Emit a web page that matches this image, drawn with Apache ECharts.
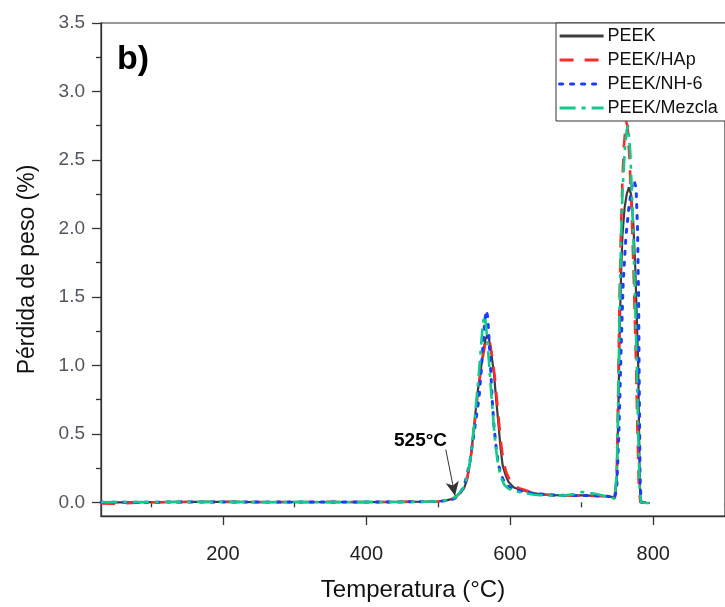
<!DOCTYPE html>
<html>
<head>
<meta charset="utf-8">
<script src="https://cdn.jsdelivr.net/npm/echarts@6/dist/echarts.min.js"></script>
<style>
html,body{margin:0;padding:0;background:#fff;}
#chart{width:725px;height:607px;}
</style>
</head>
<body>
<div id="chart"></div>
<script>
// ---- data ----
const seriesNames = ['PEEK', 'PEEK/HAp', 'PEEK/NH-6', 'PEEK/Mezcla'];

const peekT = [30,60,100,150,200,250,300,350,400,450,480,500,510,520,525,530,536,540,545,551,555,559,563,566,568.5,571,574,578,581,584,587,590,594,598,605,612,620,630,640,650,663,680,700,720,735,742,746,749,751,753,755,757,760,763,766,769,772,775,777,779,780,781,782,785,795];
const peekV = [0,0,0.002,0.003,0.003,0.002,0.002,0.002,0.002,0.003,0.004,0.006,0.012,0.025,0.04,0.065,0.1,0.16,0.3,0.6,0.8,0.95,1.1,1.19,1.22,1.19,1.1,0.93,0.75,0.58,0.4,0.27,0.2,0.15,0.11,0.095,0.085,0.07,0.062,0.056,0.052,0.05,0.05,0.047,0.045,0.04,0.03,0.15,0.6,1.2,1.65,1.95,2.15,2.25,2.3,2.25,2.05,1.7,1.35,1.0,0.6,0.2,0.02,-0.005,-0.005];

const hapT = [30,45,60,80,100,150,200,250,300,350,400,450,480,500,510,520,525,530,536,540,545,551,555,559,563,566,569,572,575,579,582,585,588,591,595,600,607,614,622,630,640,650,663,680,700,720,735,742,746,749,751,753,755,757,759,762,764,767,770,773,776,778,780,782,790];
const hapV = [-0.008,-0.01,-0.008,-0.003,0,0.002,0.003,0.002,0.002,0.003,0.002,0.003,0.004,0.006,0.012,0.025,0.04,0.065,0.1,0.16,0.3,0.58,0.78,0.94,1.08,1.17,1.2,1.17,1.08,0.92,0.75,0.58,0.42,0.3,0.22,0.16,0.12,0.1,0.088,0.072,0.062,0.056,0.052,0.05,0.048,0.046,0.044,0.04,0.03,0.2,0.8,1.5,2.0,2.35,2.6,2.78,2.75,2.5,2.1,1.6,1.0,0.5,0.1,0,0];

const nh6T = [30,60,100,150,200,250,300,350,400,450,480,500,510,520,525,530,536,540,545,550,554,557,560,563,565,567,569,571,573,575.5,578,581,584,588,592,597,603,610,618,628,640,650,663,680,700,720,735,742,746,749,752,755,758,762,766,770,773,776,778,779.5,780.5,781.5,783,790];
const nh6V = [0,0,0.001,0.002,0.003,0.002,0.002,0.003,0.002,0.003,0.004,0.006,0.012,0.022,0.035,0.06,0.12,0.19,0.32,0.5,0.65,0.76,0.95,1.18,1.32,1.4,1.36,1.2,1.0,0.74,0.55,0.4,0.28,0.2,0.15,0.12,0.1,0.09,0.08,0.07,0.062,0.056,0.052,0.05,0.05,0.047,0.045,0.04,0.03,0.1,0.5,1.1,1.6,1.95,2.15,2.3,2.35,2.3,2.0,1.5,0.8,0.2,0,0];

const mezT = [30,60,100,150,200,250,300,350,400,450,480,500,510,520,525,530,536,540,545,550,554,557,560,562,564,566,568,571,574,577,580,583,587,592,598,605,613,622,632,642,652,663,675,690,700,710,720,730,738,742,746,749,751,753,755,757,760,763,765,768,771,774,777,779,781,783,790,795];
const mezV = [0,0.002,0.002,0.003,0.003,0.002,0.003,0.002,0.003,0.002,0.004,0.007,0.014,0.028,0.042,0.07,0.11,0.18,0.31,0.55,0.78,0.95,1.15,1.28,1.36,1.33,1.22,1.02,0.8,0.6,0.42,0.3,0.19,0.13,0.1,0.085,0.075,0.065,0.057,0.052,0.05,0.048,0.05,0.06,0.075,0.07,0.06,0.05,0.04,0.035,0.025,0.2,0.7,1.4,1.9,2.25,2.55,2.72,2.75,2.55,2.15,1.6,1.0,0.5,0.1,0,-0.005,-0.005];

const xMajorTicks = [200, 400, 600, 800];
const xMinorTicks = [100, 300, 500, 700, 900];
const yMajorTicks = [0, 0.5, 1.0, 1.5, 2.0, 2.5, 3.0, 3.5];
const yMinorTicks = [0.25, 0.75, 1.25, 1.75, 2.25, 2.75, 3.25];
const onsetArrow = [[510.7, 0.385], [523.6, 0.048]];
const onsetLabel = '525°C';
const panelLabel = 'b)';

// ---- chart ----
const zip = (t, v) => t.map((x, i) => [x, v[i]]);
const axisColor = '#333';
const fontFam = 'Arial, "Liberation Sans", sans-serif';

const chart = echarts.init(document.getElementById('chart'), null, {renderer: 'canvas'});

const baseLine = {type: 'line', showSymbol: false, symbol: 'none', xAxisIndex: 0, yAxisIndex: 0, animation: false, z: 3};

const option = {
  backgroundColor: '#fff',
  animation: false,
  grid: {left: 101, top: 23, width: 626, height: 505, show: true, borderColor: axisColor, borderWidth: 1.2, backgroundColor: 'transparent'},
  legend: {
    data: seriesNames,
    orient: 'vertical',
    left: 556, top: 23,
    padding: [4, 8, 4, 2],
    itemWidth: 44, itemHeight: 14, itemGap: 6,
    borderColor: '#333', borderWidth: 1,
    backgroundColor: '#fff',
    itemStyle: {opacity: 0, borderWidth: 0},
    lineStyle: {width: 3.2},
    textStyle: {fontSize: 18, fontFamily: fontFam, color: '#111', lineHeight: 18, padding: [0,0,0,-1]},
    selectedMode: false
  },
  xAxis: [{
    type: 'value', min: 30, max: 900,
    name: 'Temperatura (°C)', nameLocation: 'middle', nameGap: 62,
    nameTextStyle: {fontSize: 24, fontFamily: fontFam, color: '#111'},
    axisLine: {show: true, onZero: false, lineStyle: {color: axisColor, width: 1.3}},
    axisTick: {show: true, customValues: xMajorTicks, length: 9, lineStyle: {color: axisColor, width: 1.3}},
    axisLabel: {customValues: xMajorTicks, fontSize: 20, fontFamily: fontFam, color: '#222', margin: 28},
    splitLine: {show: false}
  }, {
    type: 'value', min: 30, max: 900, position: 'bottom', gridIndex: 0,
    axisLine: {show: false},
    axisTick: {show: true, customValues: xMinorTicks, length: 5, lineStyle: {color: axisColor, width: 1.3}},
    axisLabel: {show: false},
    splitLine: {show: false}
  }],
  yAxis: [{
    type: 'value', min: -0.1, max: 3.5,
    name: 'Pérdida de peso (%)', nameLocation: 'middle', nameGap: 62,
    nameTextStyle: {fontSize: 23, fontFamily: fontFam, color: '#111'},
    axisLine: {show: true, onZero: false, lineStyle: {color: axisColor, width: 1.3}},
    axisTick: {show: true, customValues: yMajorTicks, length: 9, lineStyle: {color: axisColor, width: 1.3}},
    axisLabel: {customValues: yMajorTicks, fontSize: 19, fontFamily: fontFam, color: '#505560', margin: 16,
      formatter: v => v.toFixed(1)},
    splitLine: {show: false}
  }, {
    type: 'value', min: -0.1, max: 3.5, position: 'left', gridIndex: 0,
    axisLine: {show: false},
    axisTick: {show: true, customValues: yMinorTicks, length: 5, lineStyle: {color: axisColor, width: 1.3}},
    axisLabel: {show: false},
    splitLine: {show: false}
  }],
  series: [
    Object.assign({}, baseLine, {
      name: seriesNames[0], data: zip(peekT, peekV),
      lineStyle: {color: '#3d3d3d', width: 2.2, type: 'solid'}, itemStyle: {color: '#3d3d3d'},
      markLine: {
        silent: true, animation: false,
        symbol: ['none', 'arrow'], symbolSize: [10, 14],
        lineStyle: {color: '#333', width: 1, type: 'solid'},
        label: {show: false},
        data: [[{coord: onsetArrow[0]}, {coord: onsetArrow[1]}]]
      }
    }),
    Object.assign({}, baseLine, {
      name: seriesNames[1], data: zip(hapT, hapV),
      lineStyle: {color: '#ff2a2a', width: 2.6, type: [14, 11]}, itemStyle: {color: '#ff2a2a'}
    }),
    Object.assign({}, baseLine, {
      name: seriesNames[2], data: zip(nh6T, nh6V),
      lineStyle: {color: '#1c3cff', width: 3, type: [3, 8], cap: 'round'}, itemStyle: {color: '#1c3cff'}
    }),
    Object.assign({}, baseLine, {
      name: seriesNames[3], data: zip(mezT, mezV),
      lineStyle: {color: '#10c98a', width: 2.6, type: [16, 6, 4, 6]}, itemStyle: {color: '#10c98a'}
    })
  ],
  graphic: [
    {type: 'text', left: 117, top: 43, z: 10,
      style: {text: panelLabel, font: 'bold 34px ' + fontFam, fill: '#000'}},
    {type: 'text', left: 394, top: 431, z: 10,
      style: {text: onsetLabel, font: 'bold 19px ' + fontFam, fill: '#000'}}
  ]
};
chart.setOption(option);
</script>
</body>
</html>
